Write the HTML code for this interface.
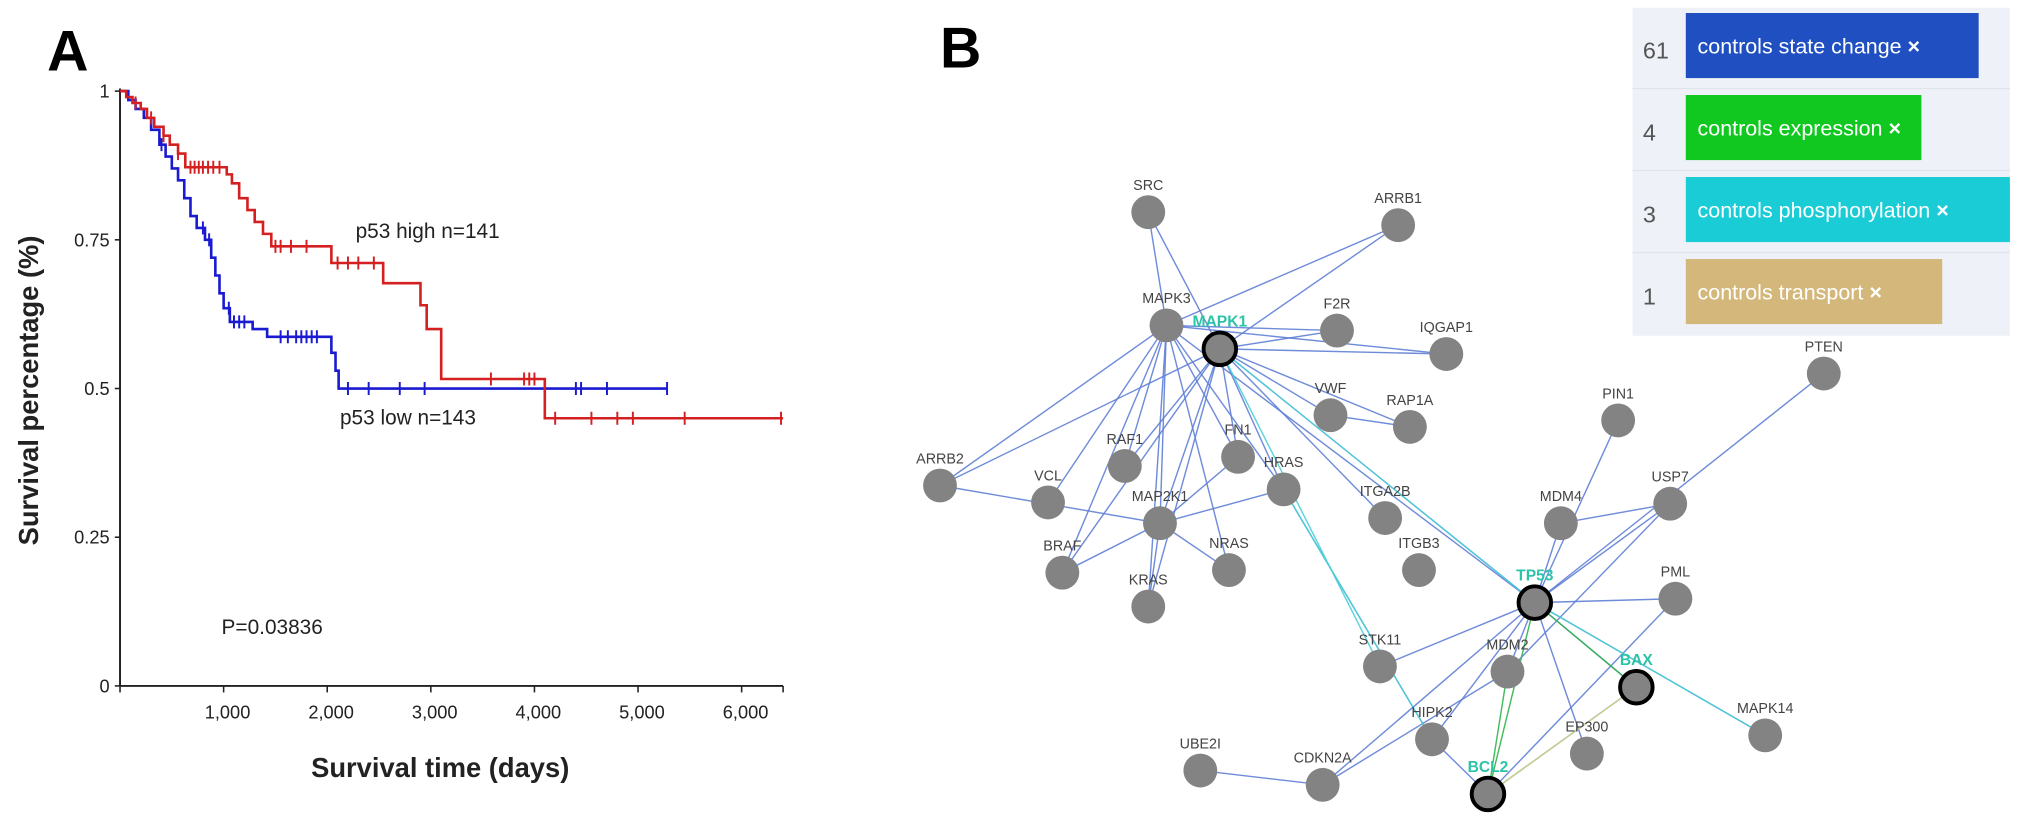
<!DOCTYPE html>
<html><head><meta charset="utf-8"><style>
html,body{margin:0;padding:0;background:#fff;}
svg{display:block;font-family:"Liberation Sans",sans-serif;}
</style></head><body>
<svg id="fig" width="2031" height="833" viewBox="0 0 1560 640">
<text x="36" y="54" font-size="44" font-weight="bold">A</text>
<text x="722" y="52" font-size="44" font-weight="bold">B</text>
<g id="km"></g>
<g id="net"></g>
<g id="legend"></g>
</svg>
<script>
// ---- KM chart data ----
const highTimes=[0,60,120,200,260,330,420,480,560,630,1030,1080,1150,1230,1300,1380,1460,2040,2540,2900,2960,3100,4100];
const highSurv=[1,0.99,0.98,0.97,0.955,0.94,0.925,0.91,0.895,0.872,0.86,0.845,0.82,0.80,0.78,0.76,0.739,0.711,0.677,0.64,0.60,0.516,0.45];
const highEnd=6400;
const highCensor=[150,300,420,560,680,720,760,800,850,900,960,1500,1550,1650,1800,2100,2200,2300,2450,3580,3900,3950,4000,4200,4550,4800,4950,5450,6380];
const lowTimes=[0,80,150,230,300,380,440,500,560,620,680,740,820,880,920,960,1000,1060,1280,1420,2040,2080,2110];
const lowSurv=[1,0.985,0.97,0.955,0.935,0.91,0.89,0.87,0.85,0.82,0.79,0.77,0.75,0.72,0.69,0.66,0.635,0.612,0.6,0.587,0.56,0.53,0.5];
const lowEnd=5280;
const lowCensor=[400,800,860,1050,1100,1150,1200,1550,1620,1700,1750,1800,1850,1900,2200,2400,2700,2940,4400,4450,4700,5280];
const yTicks=[0,0.25,0.5,0.75,1];
const yTickLabels=["0","0.25","0.5","0.75","1"];
const xTicks=[1000,2000,3000,4000,5000,6000];
const xTickLabels=["1,000","2,000","3,000","4,000","5,000","6,000"];
const NS="http://www.w3.org/2000/svg";
function X(t){return 92+t*0.0796;}
function Y(s){return 527-s*457;}
function mk(tag,attrs,parent){const e=document.createElementNS(NS,tag);for(const k in attrs)e.setAttribute(k,attrs[k]);parent.appendChild(e);return e;}
const km=document.getElementById('km');
let ax=mk('line',{x1:92,y1:Y(1)-2,x2:92,y2:527,stroke:'#222','stroke-width':1.5},km);


let ax2=mk('line',{x1:92,y1:527,x2:X(6400),y2:527,stroke:'#222','stroke-width':1.5},km);


yTicks.forEach((v,i)=>{
 mk('line',{x1:88,y1:Y(v),x2:92,y2:Y(v),stroke:'#222','stroke-width':1.2},km);
 const t=mk('text',{x:84,y:Y(v)+5,'font-size':14,'text-anchor':'end',fill:'#222'},km);
 t.textContent=yTickLabels[i];
 
 
});
mk('line',{x1:92,y1:527,x2:92,y2:532,stroke:'#222','stroke-width':1.2},km);
xTicks.concat([6400]).forEach(v=>mk('line',{x1:X(v),y1:527,x2:X(v),y2:532,stroke:'#222','stroke-width':1.2},km));
xTicks.forEach((v,i)=>{
 const t=mk('text',{x:X(v)+3,y:552,'font-size':14,'text-anchor':'middle',fill:'#222'},km);
 t.textContent=xTickLabels[i];
 
 
});
function stepPath(times,surv,end){let d=`M${X(times[0])},${Y(surv[0])}`;for(let i=1;i<times.length;i++){d+=`H${X(times[i])}V${Y(surv[i])}`;}d+=`H${X(end)}`;return d;}
function survAt(times,surv,t){let s=surv[0];for(let i=0;i<times.length;i++){if(times[i]<=t)s=surv[i];}return s;}
function drawSeries(times,surv,end,cens,col,name){
 const p=mk('path',{d:stepPath(times,surv,end),fill:'none',stroke:col,'stroke-width':2},km);
 
 
 cens.forEach(t=>{const s=survAt(times,surv,t);
  const c=mk('line',{x1:X(t),y1:Y(s)-5,x2:X(t),y2:Y(s)+5,stroke:col,'stroke-width':1.5},km);
  
  });
}
drawSeries(lowTimes,lowSurv,lowEnd,lowCensor,'#1a1ad0','p53-low');
drawSeries(highTimes,highSurv,highEnd,highCensor,'#d42020','p53-high');
function label(x,y,txt,size,name,extra){const t=mk('text',Object.assign({x:x,y:y,'font-size':size,fill:'#222'},extra||{}),km);t.textContent=txt;return t;}
label(273,183,'p53 high n=141',16,'p53-high-label');
label(261,326,'p53 low n=143',16,'p53-low-label');
label(170,487,'P=0.03836',16,'p-value-label');
label(338,597,'Survival time (days)',21,'x-axis-title',{'text-anchor':'middle','font-weight':'bold'});
label(0,0,'Survival percentage (%)',21,'y-axis-title',{'text-anchor':'middle','font-weight':'bold',transform:'translate(29,300) rotate(-90)'});

// ---- network ----
const nodeNames=["SRC","ARRB1","MAPK3","MAPK1","F2R","IQGAP1","VWF","RAP1A","ARRB2","VCL","RAF1","FN1","HRAS","MAP2K1","ITGA2B","BRAF","NRAS","ITGB3","KRAS","PTEN","PIN1","USP7","MDM4","TP53","PML","STK11","MDM2","BAX","HIPK2","EP300","MAPK14","UBE2I","CDKN2A","BCL2"];
const nodeX=[882,1074,896,937,1027,1111,1022,1083,722,805,864,951,986,891,1064,816,944,1090,882,1401,1243,1283,1199,1179,1287,1060,1158,1257,1100,1219,1356,922,1016,1143];
const nodeY=[163,173,250,268,254,272,319,328,373,386,358,351,376,402,398,440,438,438,466,287,323,387,402,463,460,512,516,528,568,579,565,592,603,610];
const hub=["MAPK1","TP53","BAX","BCL2"];
const edges=[["SRC","MAPK3"],["SRC","MAPK1"],["ARRB1","MAPK3"],["ARRB1","MAPK1"],["MAPK3","F2R"],["MAPK1","F2R"],["MAPK3","IQGAP1"],["MAPK1","IQGAP1"],["MAPK1","VWF"],["MAPK1","RAP1A"],["VWF","RAP1A"],["ARRB2","MAPK3"],["ARRB2","MAPK1"],["ARRB2","MAP2K1"],["VCL","MAPK3"],["RAF1","MAPK3"],["RAF1","MAPK1"],["FN1","MAPK3"],["FN1","MAPK1"],["HRAS","MAPK3"],["HRAS","MAPK1"],["MAP2K1","MAPK3"],["MAP2K1","MAPK1"],["MAP2K1","HRAS"],["MAP2K1","FN1"],["ITGA2B","MAPK1"],["BRAF","MAPK3"],["BRAF","MAPK1"],["BRAF","MAP2K1"],["NRAS","MAPK3"],["NRAS","MAP2K1"],["KRAS","MAPK3"],["KRAS","MAPK1"],["KRAS","MAP2K1"],["MAPK1","TP53"],["MAPK3","TP53"],["HRAS","HIPK2"],["PTEN","TP53"],["PIN1","TP53"],["USP7","TP53"],["USP7","MDM4"],["USP7","MDM2"],["MDM4","TP53"],["PML","TP53"],["PML","BCL2"],["STK11","TP53"],["MDM2","TP53"],["TP53","HIPK2"],["TP53","CDKN2A"],["TP53","EP300"],["TP53","MAPK14"],["TP53","BAX"],["BAX","BCL2"],["HIPK2","BCL2"],["UBE2I","CDKN2A"],["CDKN2A","MDM2"]];
const cyanEdges=[["MAPK1","STK11"],["MAPK1","TP53"],["HRAS","HIPK2"],["TP53","MAPK14"]];
const greenEdges=[["MDM2","BCL2"],["TP53","BCL2"],["TP53","BAX"]];
const yellowEdges=[["BAX","BCL2"]];
const net=document.getElementById('net');
function idx(n){return nodeNames.indexOf(n);}
function drawEdges(list,col,w,nm){list.forEach(e=>{const a=idx(e[0]),b=idx(e[1]);
 const l=mk('line',{x1:nodeX[a],y1:nodeY[a],x2:nodeX[b],y2:nodeY[b],stroke:col,'stroke-width':w,'stroke-opacity':0.9},net);
 
 });}
drawEdges(edges,'#5f7fd6',1.1,'state-change-edge');
drawEdges(cyanEdges,'#49cfd6',1.1,'phosphorylation-edge');
drawEdges(greenEdges,'#2fb44a',1.1,'expression-edge');
drawEdges(yellowEdges,'#cfd680',1.1,'transport-edge');
nodeNames.forEach((n,i)=>{
 const h=hub.includes(n);
 const c=mk('circle',{cx:nodeX[i],cy:nodeY[i],r:h?12.5:13,fill:'#838383',stroke:h?'#000':'none','stroke-width':h?3:0},net);
 
 
 const t=mk('text',{x:nodeX[i],y:nodeY[i]-17,'font-size':h?12:11,'text-anchor':'middle',fill:h?'#2cc4a8':'#444','font-weight':h?'bold':'normal'},net);
 t.textContent=n;
 
 
});

// ---- legend ----
const legCounts=["61","4","3","1"];
const legTexts=["controls state change","controls expression","controls phosphorylation","controls transport"];
const legColors=["#1f4fc0","#10c820","#19ccd6","#d4b77a"];
const legWidths=[225,181,249,197];
const lg=document.getElementById('legend');
const bg=mk('rect',{x:1254,y:6,width:290,height:252,fill:'#eef1f8'},lg);


legCounts.forEach((c,i)=>{
 const y0=8+i*63;
 if(i>0){mk('line',{x1:1254,y1:y0-3,x2:1544,y2:y0-3,stroke:'#dfe3ea','stroke-width':1},lg);}
 const n=mk('text',{x:1262,y:y0+37,'font-size':18,fill:'#555'},lg);
 n.textContent=c;
 
 
 const r=mk('rect',{x:1295,y:y0+2,width:legWidths[i],height:50,fill:legColors[i]},lg);
 
 
 const t=mk('text',{x:1304,y:y0+33,'font-size':16.5,fill:'#fff'},lg);
 t.textContent=legTexts[i]+' ';
 
 
 const x=mk('tspan',{'font-weight':'bold'},t);
 x.textContent='\u00d7';
 
 
});
</script>
</body></html>
